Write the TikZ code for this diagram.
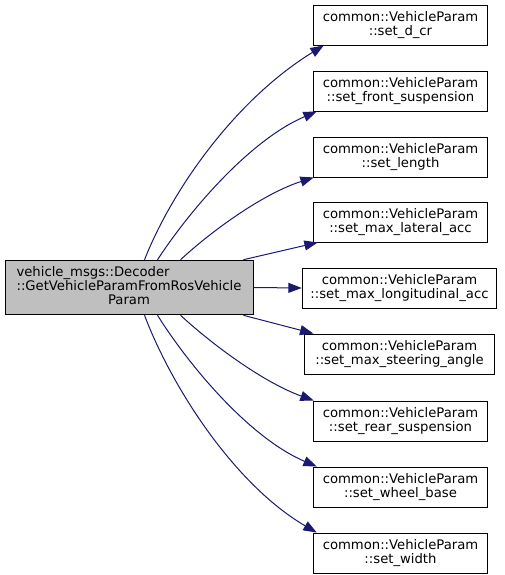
\documentclass[tikz,border=0pt]{standalone}
\usepackage{fontspec}
\setmainfont{DejaVu Sans}
\usepackage{tikz}
\usetikzlibrary{arrows.meta,calc}

\begin{document}
\begin{tikzpicture}[x=0.75pt,y=-0.75pt,
        fn/.style={draw,rectangle,line width=0.7pt,inner sep=0pt,minimum height=30pt,
                   align=center,font=\fontsize{9.9}{10.4}\selectfont},
        call/.style={draw={rgb,255:red,25;green,25;blue,112},line width=0.75pt,
                     -{Triangle[length=10pt,width=7.5pt]}}]
        \useasboundingbox (0,0) rectangle (505,575);
        % caller
        \node[fn,fill={rgb,255:red,191;green,191;blue,191},minimum width=186pt,minimum height=41pt] (src) at (129,287.5)
            {\begin{tabular}{@{}l@{}}vehicle\_msgs::Decoder\\::GetVehicleParamFromRosVehicle\\\multicolumn{1}{@{}c@{}}{Param}\end{tabular}};
        % callees
        \node[fn,minimum width=131pt] (dcr) at (400.5,25) {common::VehicleParam\\::set\_d\_cr};
        \node[fn,minimum width=131pt] (front) at (400.5,91) {common::VehicleParam\\::set\_front\_suspension};
        \node[fn,minimum width=131pt] (len) at (400.5,157) {common::VehicleParam\\::set\_length};
        \node[fn,minimum width=131pt] (lat) at (400.5,222) {common::VehicleParam\\::set\_max\_lateral\_acc};
        \node[fn,minimum width=146pt] (lon) at (399.5,288) {common::VehicleParam\\::set\_max\_longitudinal\_acc};
        \node[fn,minimum width=142pt] (steer) at (399.5,354) {common::VehicleParam\\::set\_max\_steering\_angle};
        \node[fn,minimum width=131pt] (rear) at (400.5,421) {common::VehicleParam\\::set\_rear\_suspension};
        \node[fn,minimum width=131pt] (wheel) at (400.5,487) {common::VehicleParam\\::set\_wheel\_base};
        \node[fn,minimum width=131pt] (width) at (400.5,553) {common::VehicleParam\\::set\_width};

        \draw[call] ($(src.north west)+(140,0)$) .. controls (172,190) and (235,100) .. ($(dcr.south west)+(11,0)$);
        \draw[call] ($(src.north west)+(153,0)$) .. controls (190,210) and (250,140) .. ($(front.south west)+(4,0)$);
        \draw[call] ($(src.north west)+(176,0)$) .. controls (215,228) and (265,193) .. ($(len.south west)+(1,0)$);
        \draw[call] ($(src.north east)+(-10,0)$) -- ($(lat.south west)+(5,0)$);
        \draw[call] (src.east) -- (lon.west);
        \draw[call] ($(src.south east)+(-10,0)$) -- ($(steer.north west)+(9,0)$);
        \draw[call] ($(src.south west)+(176,0)$) .. controls (215,347) and (265,383) .. ($(rear.north west)+(1,0)$);
        \draw[call] ($(src.south west)+(153,0)$) .. controls (190,367) and (250,438) .. ($(wheel.north west)+(4,0)$);
        \draw[call] ($(src.south west)+(140,0)$) .. controls (172,388) and (235,485) .. ($(width.north west)+(4,0)$);
\end{tikzpicture}
\end{document}
